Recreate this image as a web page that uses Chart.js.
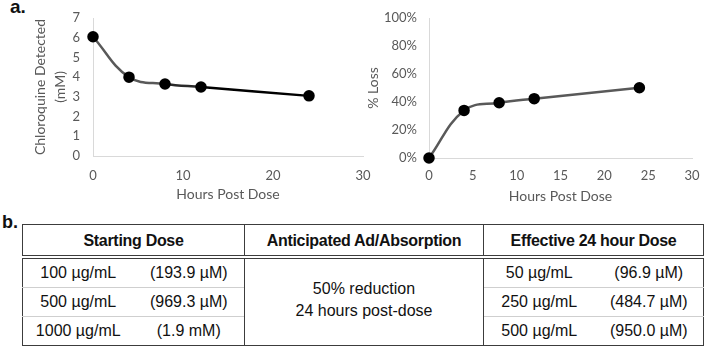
<!DOCTYPE html>
<html>
<head>
<meta charset="utf-8">
<script src="https://cdn.jsdelivr.net/npm/chart.js@4.4.1/dist/chart.umd.min.js"></script>
<style>
  body { margin: 0; background: #fff; width: 708px; height: 346px; position: relative; overflow: hidden; font-family: "Liberation Sans", Arial, sans-serif; }
  canvas { position: absolute; top: 0; }
  #leftChart { left: 0; }
  #rightChart { left: 360px; }
  .panel { position: absolute; font-weight: bold; color: #111; line-height: 1; }
  #tbl { position: absolute; left: 22px; top: 224px; border-collapse: collapse; table-layout: fixed; border: 1.5px solid #3c3c3c; color: #111; font-size: 16px; }
  #tbl td, #tbl th { padding: 0; text-align: center; vertical-align: middle; white-space: nowrap; }
  #tbl th { font-weight: bold; height: 28px; padding-top: 2px; letter-spacing: -0.3px; border-bottom: 4px double #3c3c3c; }
  #tbl th + th, #tbl td.mid, #tbl td.c3a { border-left: 1.5px solid #3c3c3c; }
  #tbl td { height: 28px; }
  #tbl tr.sep td.c1a, #tbl tr.sep td.c1b, #tbl tr.sep td.c3a, #tbl tr.sep td.c3b { border-top: 1px solid #cfcfcf; }
  #tbl td.mid { line-height: 22px; padding-bottom: 4px; }
</style>
</head>
<body>
<div class="panel" style="left:10px; top:-3px; font-size:19px;">a.</div>
<div class="panel" style="left:2px; top:213px; font-size:18px;">b.</div>
<canvas id="leftChart" width="380" height="210"></canvas>
<canvas id="rightChart" width="348" height="210"></canvas>
<table id="tbl">
  <colgroup>
    <col style="width:111px"><col style="width:111px"><col style="width:239px"><col style="width:111px"><col style="width:109px">
  </colgroup>
  <thead><tr id="headRow"></tr></thead>
  <tbody id="tbody"></tbody>
</table>
<script>
// chart data
const hours = [0, 4, 8, 12, 24];
const chloroquineMM = [6.05, 4.0, 3.65, 3.5, 3.05];
const percentLoss = [0, 34, 39.5, 42.4, 50.2];

// table content
const headers = ['Starting Dose', 'Anticipated Ad/Absorption', 'Effective 24 hour Dose'];
const startingDose = ['100 µg/mL', '500 µg/mL', '1000 µg/mL'];
const startingMolar = ['(193.9 µM)', '(969.3 µM)', '(1.9 mM)'];
const absorption = ['50% reduction', '24 hours post-dose'];
const effectiveDose = ['50 µg/mL', '250 µg/mL', '500 µg/mL'];
const effectiveMolar = ['(96.9 µM)', '(484.7 µM)', '(950.0 µM)'];

const gray = '#595959';
const axisLine = '#d9d9d9';
const tickFont = { family: 'Lato', size: 13 };
const titleFont = { family: 'Lato', size: 14, lineHeight: 1.45 };

function points(ys) {
  return hours.map((h, i) => ({ x: h, y: ys[i] }));
}

function lineDataset(ys, segColor) {
  return {
    data: points(ys),
    borderColor: gray,
    borderWidth: 2.5,
    tension: 0.4,
    pointRadius: 4.5,
    pointHoverRadius: 4.5,
    pointBackgroundColor: '#000',
    pointBorderColor: '#000',
    clip: false,
    segment: segColor ? { borderColor: segColor } : undefined
  };
}

function baseOptions(opts) {
  return {
    responsive: false,
    animation: false,
    layout: { padding: { left: 0, right: opts.padRight, top: 18, bottom: 0 } },
    plugins: { legend: { display: false }, tooltip: { enabled: false } },
    scales: {
      x: {
        type: 'linear', min: 0, max: 30,
        ticks: { stepSize: opts.xStep, color: gray, font: tickFont, padding: opts.xTickPad },
        grid: { display: false },
        border: { color: axisLine, width: 1 },
        title: { display: true, text: 'Hours Post Dose', color: gray, font: titleFont, padding: { top: 0, bottom: opts.xTitlePad } },
        afterFit: s => { s.height = opts.xHeight; }
      },
      y: {
        min: opts.yMin, max: opts.yMax,
        ticks: { stepSize: opts.yStep, color: gray, font: tickFont, padding: opts.yTickPad, callback: opts.yCallback },
        grid: { display: false },
        border: { color: axisLine, width: 1 },
        title: { display: true, text: opts.yTitle, color: gray, font: titleFont, padding: { top: opts.yTitlePad, bottom: 0 } },
        afterFit: s => { s.width = opts.yWidth; }
      }
    }
  };
}

new Chart(document.getElementById('leftChart'), {
  type: 'line',
  data: { datasets: [lineDataset(chloroquineMM, ctx => ctx.p1DataIndex >= 4 ? '#000' : (ctx.p1DataIndex >= 3 ? '#2a2a2a' : gray))] },
  options: baseOptions({
    padRight: 17, xStep: 10, xTickPad: 4, xTitlePad: 5.6, xHeight: 54,
    yMin: 0, yMax: 7, yStep: 1, yTickPad: 5, yWidth: 93, yTitlePad: 30,
    yTitle: ['Chloroquine Detected', '(mM)'],
    yCallback: v => v
  })
});

new Chart(document.getElementById('rightChart'), {
  type: 'line',
  data: { datasets: [lineDataset(percentLoss, null)] },
  options: baseOptions({
    padRight: 16, xStep: 5, xTickPad: 2, xTitlePad: 3.6, xHeight: 52,
    yMin: 0, yMax: 100, yStep: 20, yTickPad: 4, yWidth: 69, yTitlePad: 3,
    yTitle: '% Loss',
    yCallback: v => v + '%'
  })
});

// build the table
const headRow = document.getElementById('headRow');
headers.forEach((h, i) => {
  const th = document.createElement('th');
  th.textContent = h;
  if (i !== 1) th.colSpan = 2;
  headRow.appendChild(th);
});
const tbody = document.getElementById('tbody');
startingDose.forEach((d, i) => {
  const tr = document.createElement('tr');
  if (i > 0) tr.className = 'sep';
  const cells = [[d, 'c1a'], [startingMolar[i], 'c1b']];
  cells.forEach(([t, c]) => { const td = document.createElement('td'); td.textContent = t; td.className = c; tr.appendChild(td); });
  if (i === 0) {
    const td = document.createElement('td');
    td.className = 'mid';
    td.rowSpan = startingDose.length;
    td.innerHTML = absorption.join('<br>');
    tr.appendChild(td);
  }
  [[effectiveDose[i], 'c3a'], [effectiveMolar[i], 'c3b']].forEach(([t, c]) => { const td = document.createElement('td'); td.textContent = t; td.className = c; tr.appendChild(td); });
  tbody.appendChild(tr);
});
</script>
</body>
</html>
